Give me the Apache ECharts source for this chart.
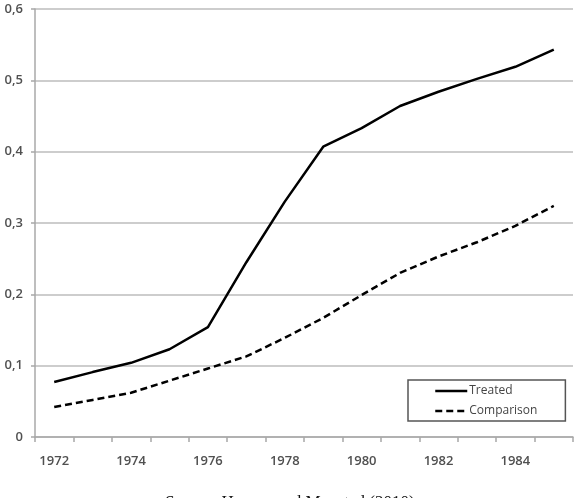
<!DOCTYPE html>
<html>
<head>
<meta charset="utf-8">
<script src="https://cdn.jsdelivr.net/npm/echarts@6/dist/echarts.min.js"></script>
<style>
  html, body { margin: 0; padding: 0; background: #fff; }
  #chart { width: 580px; height: 498px; }
</style>
</head>
<body>
<div id="chart"></div>
<script>
var years = ['1972', '1973', '1974', '1975', '1976', '1977', '1978', '1979', '1980', '1981', '1982', '1983', '1984', '1985'];
var treated = [0.077, 0.091, 0.104, 0.123, 0.154, 0.245, 0.33, 0.407, 0.433, 0.464, 0.484, 0.502, 0.519, 0.543];
var comparison = [0.042, 0.052, 0.062, 0.079, 0.096, 0.113, 0.139, 0.167, 0.199, 0.23, 0.253, 0.273, 0.296, 0.324];

var myChart = echarts.init(document.getElementById('chart'));

var option = {
    animation: false,
    title: {
        text: 'Source: Haynes and Mogstad (2010)',
        left: 'center',
        top: 489,
        textStyle: {
            fontFamily: 'Liberation Serif',
            fontWeight: 'normal',
            fontSize: 17,
            color: '#111'
        }
    },
    grid: { left: 35, right: 7, top: 9, bottom: 61 },
    legend: {
        orient: 'vertical',
        left: 408,
        top: 380,
        padding: [5, 28, 4, 26],
        itemWidth: 32,
        itemHeight: 14,
        itemGap: 8,
        borderColor: '#555',
        borderWidth: 1.5,
        backgroundColor: '#fff',
        itemStyle: { opacity: 0 },
        lineStyle: { width: 2.5 },
        textStyle: { fontFamily: 'Open Sans', fontSize: 12, color: '#444', padding: [0, 0, 0, -3] },
        data: ['Treated', 'Comparison']
    },
    xAxis: {
        type: 'category',
        data: years,
        boundaryGap: true,
        axisLine: { lineStyle: { color: '#a8a8a8', width: 1.5 } },
        axisTick: { show: true, interval: 0, length: 5, lineStyle: { color: '#a8a8a8', width: 1.5 } },
        axisLabel: {
            interval: 1,
            margin: 18,
            fontFamily: 'Open Sans',
            fontWeight: 600,
            fontSize: 13,
            color: '#505050'
        }
    },
    yAxis: {
        type: 'value',
        min: 0,
        max: 0.6,
        interval: 0.1,
        axisLine: { show: true, lineStyle: { color: '#a8a8a8', width: 1.5 } },
        axisTick: { show: true, length: 4, lineStyle: { color: '#a8a8a8', width: 1.5 } },
        splitLine: { lineStyle: { color: '#bdbdbd', width: 1.5 } },
        axisLabel: {
            margin: 12,
            fontFamily: 'Open Sans',
            fontWeight: 600,
            fontSize: 13,
            color: '#505050',
            formatter: function (v) {
                return v === 0 ? '0' : v.toFixed(1).replace('.', ',');
            }
        }
    },
    series: [
        {
            name: 'Treated',
            type: 'line',
            data: treated,
            symbol: 'none',
            lineStyle: { color: '#000', width: 2.5 },
            itemStyle: { color: '#000' }
        },
        {
            name: 'Comparison',
            type: 'line',
            data: comparison,
            symbol: 'none',
            lineStyle: { color: '#000', width: 2.5, type: [7, 4] },
            itemStyle: { color: '#000' }
        }
    ]
};

myChart.setOption(option);
</script>
</body>
</html>
